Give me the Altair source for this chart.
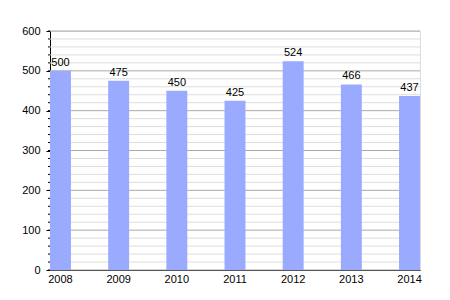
import altair as alt
import pandas as pd

years = ["2008", "2009", "2010", "2011", "2012", "2013", "2014"]
values = [500, 475, 450, 425, 524, 466, 437]
grid_values = list(range(0, 601, 20))
major_values = list(range(0, 601, 100))

bars_df = pd.DataFrame({"year": years, "value": values})
grid_df = pd.DataFrame({"v": grid_values, "major": [v % 100 == 0 for v in grid_values]})

FONT = "Liberation Sans"
yscale = alt.Scale(domain=[0, 600], nice=False, zero=True)
xscale = alt.Scale(paddingInner=0.64, paddingOuter=0)

yaxis = alt.Axis(title=None, values=major_values, tickSize=4, tickColor="black",
                 domainColor="black", labelColor="black", labelFont=FONT,
                 labelFontSize=11, labelPadding=6, grid=False)
xaxis = alt.Axis(title=None, labelAngle=0, ticks=False, domainColor="black",
                 labelColor="black", labelFont=FONT, labelFontSize=11,
                 labelPadding=3, grid=False)

grid = alt.Chart(grid_df).mark_rule(strokeWidth=1).encode(
    y=alt.Y("v:Q", scale=yscale, axis=yaxis),
    color=alt.condition("datum.major", alt.value("#aaaaaa"), alt.value("#dddddd")),
)

minor_ticks = alt.Chart(grid_df).mark_rule(color="black", strokeWidth=1).encode(
    y=alt.Y("v:Q", scale=yscale, axis=yaxis),
    x=alt.value(-2),
    x2=alt.value(0),
)

bars = alt.Chart(bars_df).mark_bar(color="#99aaff").encode(
    x=alt.X("year:N", scale=xscale, sort=years, axis=xaxis),
    y=alt.Y("value:Q", scale=yscale, axis=yaxis),
)

labels = alt.Chart(bars_df).mark_text(
    baseline="bottom", dy=-3, font=FONT, fontSize=11, color="black"
).encode(
    x=alt.X("year:N", scale=xscale, sort=years, axis=xaxis),
    y=alt.Y("value:Q", scale=yscale, axis=yaxis),
    text=alt.Text("value:Q"),
)

chart = alt.layer(grid, minor_ticks, bars, labels).properties(
    width=370,
    height=239,
    autosize=alt.AutoSizeParams(type="none"),
    padding={"left": 50, "top": 31, "right": 30, "bottom": 30},
).configure_view(stroke=None).configure(background="white")

chart.save("out.html", embed_options={"renderer": "svg", "actions": False})
